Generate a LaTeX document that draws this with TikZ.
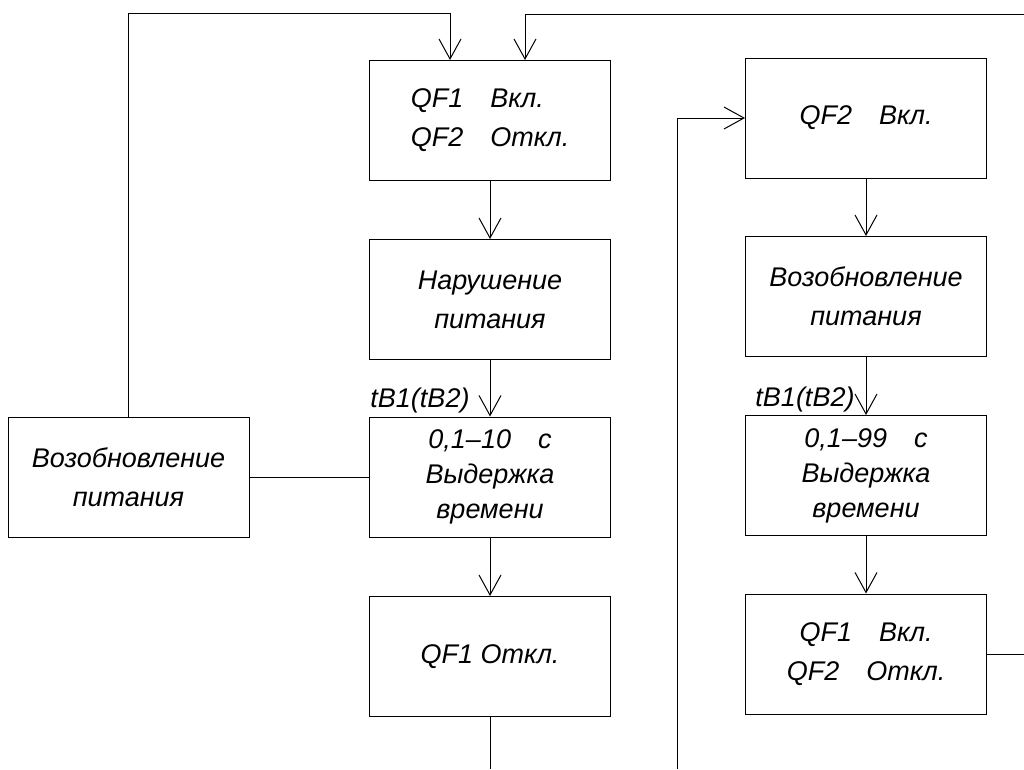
\documentclass[tikz,border=0pt]{standalone}
\usepackage{fontspec}
\setmainfont{Liberation Sans}
\usetikzlibrary{arrows.meta,positioning,calc}

\begin{document}
\begin{tikzpicture}[x=1pt,y=-1pt,line width=1pt,
  font=\fontsize{27}{39}\selectfont\itshape,
  blk/.style={draw,rectangle,minimum width=241pt,minimum height=120pt,inner sep=0pt,align=center},
  dly/.style={blk,font=\fontsize{27}{35}\selectfont\itshape},
  arr/.style={-{Straight Barb[length=20pt,width=22pt,line width=1pt]}}]
\useasboundingbox (0,0) rectangle (1024,769);
% left branch: QF1 on, loss of supply, delay, QF1 off
\node[blk,align=left] (qfA) at (490,120.5) {QF1\quad Вкл.\\QF2\quad Откл.};
\node[blk] (lossB) at (490,299.5) {Нарушение\\питания};
\node[dly] (delayC) at (490,477) {0,1–10\quad с\\Выдержка\\времени};
\node[blk] (offD) at (490,656.5) {QF1 Откл.};
\node[blk] (restL) at (128.5,477) {Возобновление\\питания};
\node[anchor=base east,inner sep=0pt] (tlblC) at ($(delayC.north)+(-20,-9)$) {tB1(tB2)};
% right branch: QF2 on, restoration, delay, QF1 on
\node[blk] (qfE) at (866,118) {QF2\quad Вкл.};
\node[blk] (restF) at (866,296.5) {Возобновление\\питания};
\node[dly] (delayG) at (866,475.5) {0,1–99\quad с\\Выдержка\\времени};
\node[blk] (qfH) at (866,654) {QF1\quad Вкл.\\QF2\quad Откл.};
\node[anchor=base east,inner sep=0pt] (tlblG) at ($(delayG.north)+(-11,-9)$) {tB1(tB2)};

\coordinate (topL) at (450,13);
\coordinate (topR) at (525,14);
\coordinate (edgeR) at (1024,14);
\coordinate (edgeH) at (1024,654);
\coordinate (botD) at (490,769);
\coordinate (botE) at (677,769);

\draw[arr] (qfA) -- (lossB);
\draw[arr] (lossB) -- (delayC);
\draw[arr] (delayC) -- (offD);
\draw (offD) -- (botD);
\draw (restL) -- (delayC);
\draw[arr] (restL.north) |- (topL) -- (topL |- qfA.north);
\draw[arr] (edgeR) -- (topR) -- (topR |- qfA.north);

\draw[arr] (botE) |- (qfE.west);
\draw[arr] (qfE) -- (restF);
\draw[arr] (restF) -- (delayG);
\draw[arr] (delayG) -- (qfH);
\draw (qfH) -- (edgeH);
\end{tikzpicture}
\end{document}
